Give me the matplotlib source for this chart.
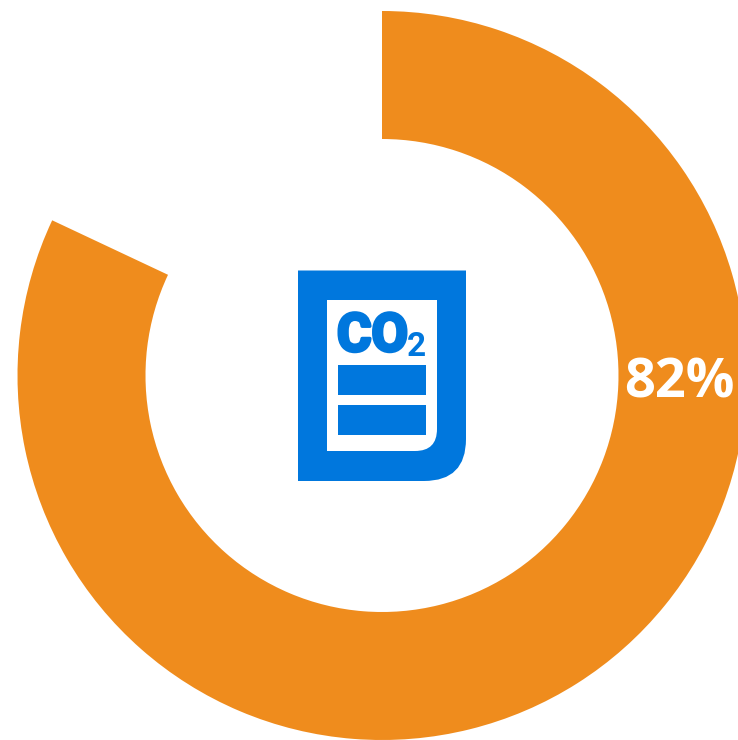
import matplotlib
matplotlib.use('Agg')
import matplotlib.pyplot as plt
import matplotlib.patches as mpatches
import matplotlib.patheffects as pe
from matplotlib.path import Path

# Donut share
share_values = [82, 18]
share_label = '82%'

orange = '#EF8C1D'
blue = '#0077DD'

W, H = 738, 740

def py(y):
    # pixel rows count from the top, the axes count from the bottom
    return H - y

fig = plt.figure(figsize=(W / 100, H / 100), dpi=100, facecolor='white')
ax = fig.add_axes([0, 0, 1, 1])

# Ring
wedges, _ = ax.pie(share_values, colors=[orange, 'none'], startangle=90,
                   counterclock=False, center=(382, py(375.5)), radius=364.5,
                   wedgeprops=dict(width=128, linewidth=0))
ax.set_xlim(0, W)
ax.set_ylim(0, H)
ax.set_aspect('equal')
ax.axis('off')

ax.text(735, py(397), share_label, color='white', fontsize=39, fontweight='bold',
        family='Open Sans', ha='right', va='baseline')


def sheet(x0, x1, y0, y1, r, color):
    # rectangle with only the lower right corner rounded
    verts = [(x0, py(y0)), (x1, py(y0)), (x1, py(y1 - r)),
             (x1, py(y1)), (x1 - r, py(y1)),
             (x0, py(y1)), (x0, py(y0))]
    codes = [Path.MOVETO, Path.LINETO, Path.LINETO,
             Path.CURVE3, Path.CURVE3,
             Path.LINETO, Path.CLOSEPOLY]
    ax.add_patch(mpatches.PathPatch(Path(verts, codes), facecolor=color,
                                    edgecolor='none'))


# Document icon
sheet(298, 466, 270.5, 481, 42, blue)
sheet(327, 437, 300, 451, 22, 'white')
for top, bottom in [(365, 395), (405, 434.5)]:
    ax.add_patch(mpatches.Rectangle((337.5, py(bottom)), 88.5, bottom - top,
                                    facecolor=blue, edgecolor='none'))

heavy = [pe.withStroke(linewidth=2.5, foreground=blue)]
ax.text(337, py(351), 'CO', color=blue, fontsize=38, fontweight='bold', family='Roboto',
        ha='left', va='baseline', path_effects=heavy)
ax.text(407, py(356), '2', color=blue, fontsize=24, fontweight='bold', family='Roboto',
        ha='left', va='baseline')

fig.savefig('out.png', dpi=100, facecolor='white')
